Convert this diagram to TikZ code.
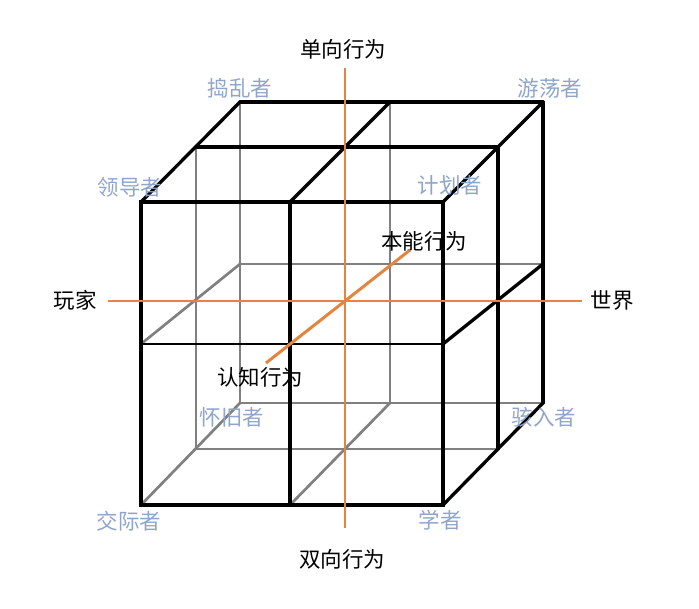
\documentclass[tikz,border=0pt]{standalone}
\usepackage{fontspec}
\newfontfamily\cjk{Noto Sans CJK SC}
\definecolor{rolecol}{HTML}{8FA5CB}
\definecolor{axiscol}{HTML}{E5843F}
\definecolor{backcol}{HTML}{808080}
\tikzstyle{role}=[text=rolecol,font=\cjk\fontsize{21.5}{24}\selectfont,inner sep=0pt]
\tikzstyle{behave}=[text=black,font=\cjk\fontsize{21.5}{24}\selectfont,inner sep=0pt]

\begin{document}
\begin{tikzpicture}[x=1pt,y=-1pt]
\tikzstyle{front}=[draw=black,line width=3.3pt,line cap=round]
\tikzstyle{frontthin}=[draw=black,line width=1.2pt]
\tikzstyle{back}=[draw=backcol,line width=2.7pt,line cap=round]
\tikzstyle{backthin}=[draw=backcol,line width=1.2pt]
\tikzstyle{axis}=[draw=axiscol,line width=1.3pt]
\tikzstyle{depth}=[draw=axiscol,line width=3pt]
\useasboundingbox (0,0) rectangle (699,609);
% front layer
\coordinate (fTL) at (141,202);
\coordinate (fTM) at (290,202);
\coordinate (fTR) at (443,202);
\coordinate (fML) at (141,344);
\coordinate (fMR) at (443,344);
\coordinate (fBL) at (141,505);
\coordinate (fBM) at (290,505);
\coordinate (fBR) at (443,505);
% middle layer
\coordinate (mTL) at (196,147);
\coordinate (mTR) at (498,147);
\coordinate (mBL) at (196,449);
\coordinate (mBR) at (498,449);
% back layer
\coordinate (bTL) at (240,102);
\coordinate (bTM) at (390,102);
\coordinate (bTR) at (543,102);
\coordinate (bML) at (240,264);
\coordinate (bMR) at (543,264);
\coordinate (bBL) at (240,403);
\coordinate (bBM) at (390,403);
\coordinate (bBR) at (543,403);
% hidden edges
\draw[backthin] (bML) -- (bMR);
\draw[backthin] (mBL) -- (mBR);
\draw[back] (mTL) -- (mBL);
\draw[back] (bTL) -- (bBL);
\draw[back] (bTM) -- (bBM);
\draw[back] (bBL) -- (bBR);
\draw[back] (fML) -- (bML);
\draw[back] (fBL) -- (bBL);
\draw[back] (fBM) -- (bBM);
% visible edges
\draw[frontthin] (fML) -- (fMR);
\draw[front,line join=miter] (fTL) -- (fTR) -- (fBR) -- (fBL) -- cycle;
\draw[front] (fTM) -- (fBM);
\draw[front] (fTL) -- (bTL);
\draw[front] (fTM) -- (bTM);
\draw[front] (fTR) -- (bTR);
\draw[front] (mTL) -- (mTR);
\draw[front] (mTR) -- (mBR);
\draw[front] (bTL) -- (bTR);
\draw[front] (bTR) -- (bBR);
\draw[front] (fMR) -- (bMR);
\draw[front] (fBR) -- (bBR);
% axes
\node[behave] (oneway) at (343,49) {单向行为};
\node[behave] (twoway) at (342,559) {双向行为};
\node[behave] (player) at (75,300) {玩家};
\node[behave] (world) at (612,300) {世界};
\node[behave] (instinct) at (424,241) {本能行为};
\node[behave] (cognit) at (260,377) {认知行为};
\coordinate (axT) at (345,68);
\coordinate (axB) at (345,528);
\coordinate (axL) at (108,301);
\coordinate (axR) at (582,301);
\coordinate (dpF) at (266,363);
\coordinate (dpB) at (410,250);
\draw[axis] (axT) -- (axB);
\draw[axis] (axL) -- (axR);
\draw[depth] (dpF) -- (dpB);
% roles
\node[role] (troll) at (240,88) {捣乱者};
\node[role] (wander) at (550,88) {游荡者};
\node[role] (leader) at (130,187) {领导者};
\node[role] (planner) at (450,185) {计划者};
\node[role] (nostalg) at (232,417) {怀旧者};
\node[role] (hacker) at (544,417) {骇入者};
\node[role] (social) at (129,521) {交际者};
\node[role] (scholar) at (440,520) {学者};
\end{tikzpicture}
\end{document}
